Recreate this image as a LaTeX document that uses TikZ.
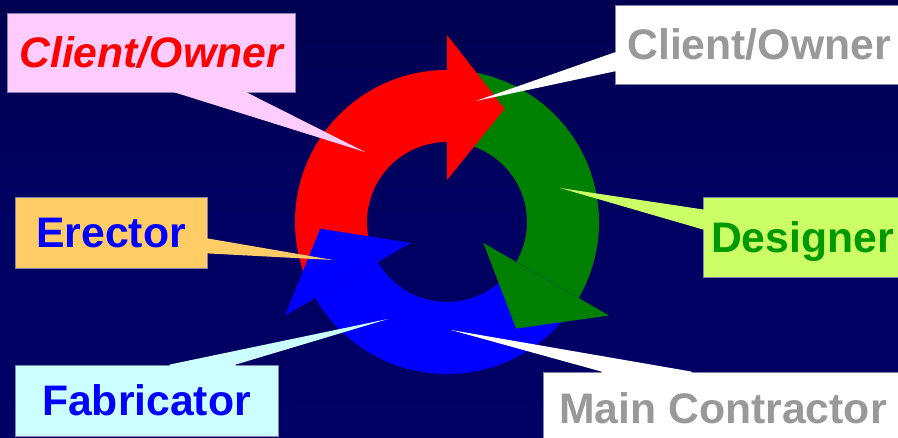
\documentclass[tikz,border=0pt]{standalone}
\usepackage{fontspec}
\setmainfont{Liberation Sans}
\usetikzlibrary{calc}

\definecolor{bgtop}{RGB}{0,0,62}
\definecolor{bgmid}{RGB}{0,0,98}
\definecolor{bgbot}{RGB}{0,0,104}
\definecolor{ringred}{RGB}{255,0,0}
\definecolor{ringgreen}{RGB}{0,128,0}
\definecolor{ringblue}{RGB}{0,0,255}
\definecolor{pinkfill}{RGB}{255,204,255}
\definecolor{limefill}{RGB}{204,255,102}
\definecolor{orangefill}{RGB}{255,204,102}
\definecolor{cyanfill}{RGB}{204,255,255}
\definecolor{labelgray}{RGB}{153,153,153}
\definecolor{labelgreen}{RGB}{0,153,0}
\definecolor{labelblue}{RGB}{0,0,255}
\definecolor{edgegray}{RGB}{130,130,170}

\pgfdeclareverticalshading{backdrop}{100bp}{color(0bp)=(bgbot); color(50bp)=(bgmid); color(100bp)=(bgtop)}

\begin{document}
\begin{tikzpicture}[x=1pt,y=1pt,
  labelbox/.style={inner sep=0pt, text height=30.5pt, text depth=0pt,
    font=\fontsize{42.7}{50}\selectfont\bfseries, draw=edgegray, line width=0.8pt}]
\useasboundingbox (0,0) rectangle (898,438);
\clip (0,0) rectangle (898,438);

% backdrop
\shade[shading=backdrop] (0,0) rectangle (898,438);

% circular cycle of three arrows
\begin{scope}[shift={(447,216)}]
  % arrow bodies (ring segments)
  \fill[ringred] (210:80) arc[start angle=210, end angle=90, radius=80]
    -- (90:152) arc[start angle=90, end angle=210, radius=152] -- cycle;
  \fill[ringgreen] (90:80) arc[start angle=90, end angle=-30, radius=80]
    -- (-30:152) arc[start angle=-30, end angle=90, radius=152] -- cycle;
  \fill[ringblue] (-30:80) arc[start angle=-30, end angle=-150, radius=80]
    -- (-150:152) arc[start angle=-150, end angle=-30, radius=152] -- cycle;
  % arrow heads
  \fill[ringred] (90:42) -- (90:187) -- (63:127) -- cycle;
  \fill[ringgreen] (-30:42) -- (-30:187) -- (-57:127) -- cycle;
  \fill[ringblue] (210:42) -- (210:187) -- (183:127) -- cycle;
\end{scope}

% callout boxes
\node[labelbox, fill=pinkfill, minimum width=288pt, minimum height=79pt]
  (client) at (151,385.5) {\textcolor{ringred}{\itshape Client/Owner}};
\node[labelbox, fill=white, minimum width=288pt, minimum height=79pt]
  (owner) at (759,393.5) {\textcolor{labelgray}{Client/Owner}};
\node[labelbox, fill=limefill, minimum width=199pt, minimum height=80pt]
  (designer) at (802.5,201) {\textcolor{labelgreen}{Designer}};
\node[labelbox, fill=orangefill, minimum width=192pt, minimum height=71pt]
  (erector) at (111,205.5) {\textcolor{labelblue}{Erector}};
\node[labelbox, fill=cyanfill, minimum width=263pt, minimum height=71pt]
  (fabricator) at (146.5,37.5) {\textcolor{labelblue}{Fabricator}};
\node[labelbox, fill=white, minimum width=360pt, minimum height=72pt]
  (contractor) at (723,30) {\textcolor{labelgray}{Main Contractor}};

% pointer tips
\coordinate (clienttip) at (365,286);
\coordinate (ownertip) at (476,337);
\coordinate (designertip) at (560,250);
\coordinate (erectortip) at (333,178);
\coordinate (fabricatortip) at (388,119);
\coordinate (contractortip) at (451,108);

% callout pointers
\fill[pinkfill] ($(client.south west)+(168,1.5)$) -- ($(client.south west)+(168,0)$)
  -- (clienttip) -- ($(client.south west)+(240,0)$) -- ($(client.south west)+(240,1.5)$) -- cycle;
\fill[white] ($(owner.south west)+(1.5,13)$) -- ($(owner.south west)+(0,13)$)
  -- (ownertip) -- ($(owner.south west)+(0,32)$) -- ($(owner.south west)+(1.5,32)$) -- cycle;
\fill[limefill] ($(designer.south west)+(1.5,48)$) -- ($(designer.south west)+(0,48)$)
  -- (designertip) -- ($(designer.south west)+(0,68)$) -- ($(designer.south west)+(1.5,68)$) -- cycle;
\fill[orangefill] ($(erector.south east)+(-1.5,15)$) -- ($(erector.south east)+(0,15)$)
  -- (erectortip) -- ($(erector.south east)+(0,30)$) -- ($(erector.south east)+(-1.5,30)$) -- cycle;
\fill[cyanfill] ($(fabricator.north west)+(155,-1.5)$) -- ($(fabricator.north west)+(155,0)$)
  -- (fabricatortip) -- ($(fabricator.north west)+(221,0)$) -- ($(fabricator.north west)+(221,-1.5)$) -- cycle;
\fill[white] ($(contractor.north west)+(59,-1.5)$) -- ($(contractor.north west)+(59,0)$)
  -- (contractortip) -- ($(contractor.north west)+(149,0)$) -- ($(contractor.north west)+(149,-1.5)$) -- cycle;
\end{tikzpicture}
\end{document}
